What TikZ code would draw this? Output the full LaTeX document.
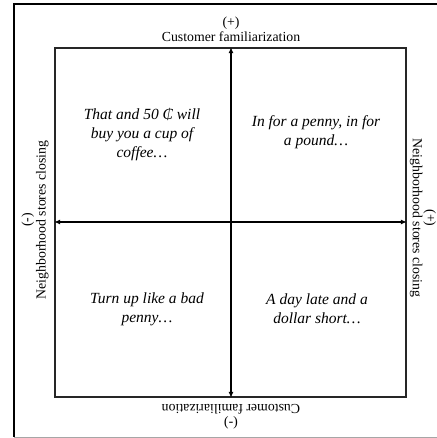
\documentclass[tikz,border=0pt]{standalone}
\usepackage{fontspec}
\setmainfont{Liberation Serif}
\usetikzlibrary{arrows.meta}
\begin{document}
\begin{tikzpicture}[x=1pt,y=-1pt,
  axislabel/.style={font=\fontsize{13.8}{14.5}\selectfont, align=center, inner sep=0pt},
  quadtext/.style={font=\fontsize{15.5}{19}\selectfont\itshape, align=center, inner sep=0pt},
  axis/.style={line width=1.5pt, {Latex[length=6pt,width=5pt]}-{Latex[length=6pt,width=5pt]}},
  frame/.style={line width=2pt, black}]
\useasboundingbox (0,0) rectangle (436,438);
% outer frame
\coordinate (ftr) at (437,4);
\coordinate (ftl) at (14,4);
\coordinate (fbl) at (14,437);
\coordinate (fbr) at (437,437);
\draw[frame] (ftr) -- (ftl) -- (fbl);
\draw[gray!70, line width=0.8pt] (fbl) -- (fbr);
% inner box
\node[draw=black!85, line width=1.8pt, minimum width=351pt, minimum height=349pt, inner sep=0pt] (box) at (230.5,222.5) {};
\coordinate (c) at (231,222);
\draw[axis] (box.south -| c) -- (box.north -| c);
\draw[axis] (box.west |- c) -- (box.east |- c);
% axis labels
\node[axislabel] (top) at (231,29.5) {(+)\\Customer familiarization};
\node[axislabel, rotate=180] (bottom) at (231,416.5) {(-)\\Customer familiarization};
\node[axislabel, rotate=90] (left) at (35,220) {(-)\\Neighborhood stores closing};
\node[axislabel, rotate=-90, font=\fontsize{13.8}{12.5}\selectfont] (right) at (423,218) {(+)\\Neighborhood stores closing};
% quadrant texts
\node[quadtext] (tl) at (142,135) {That and 50 ₵ will\\buy you a cup of\\coffee\ldots};
\node[quadtext] (tr) at (316,132) {In for a penny, in for\\a pound\ldots};
\node[quadtext] (bl) at (147,309) {Turn up like a bad\\penny\ldots};
\node[quadtext] (br) at (317,309) {A day late and a\\dollar short\ldots};
\end{tikzpicture}
\end{document}
